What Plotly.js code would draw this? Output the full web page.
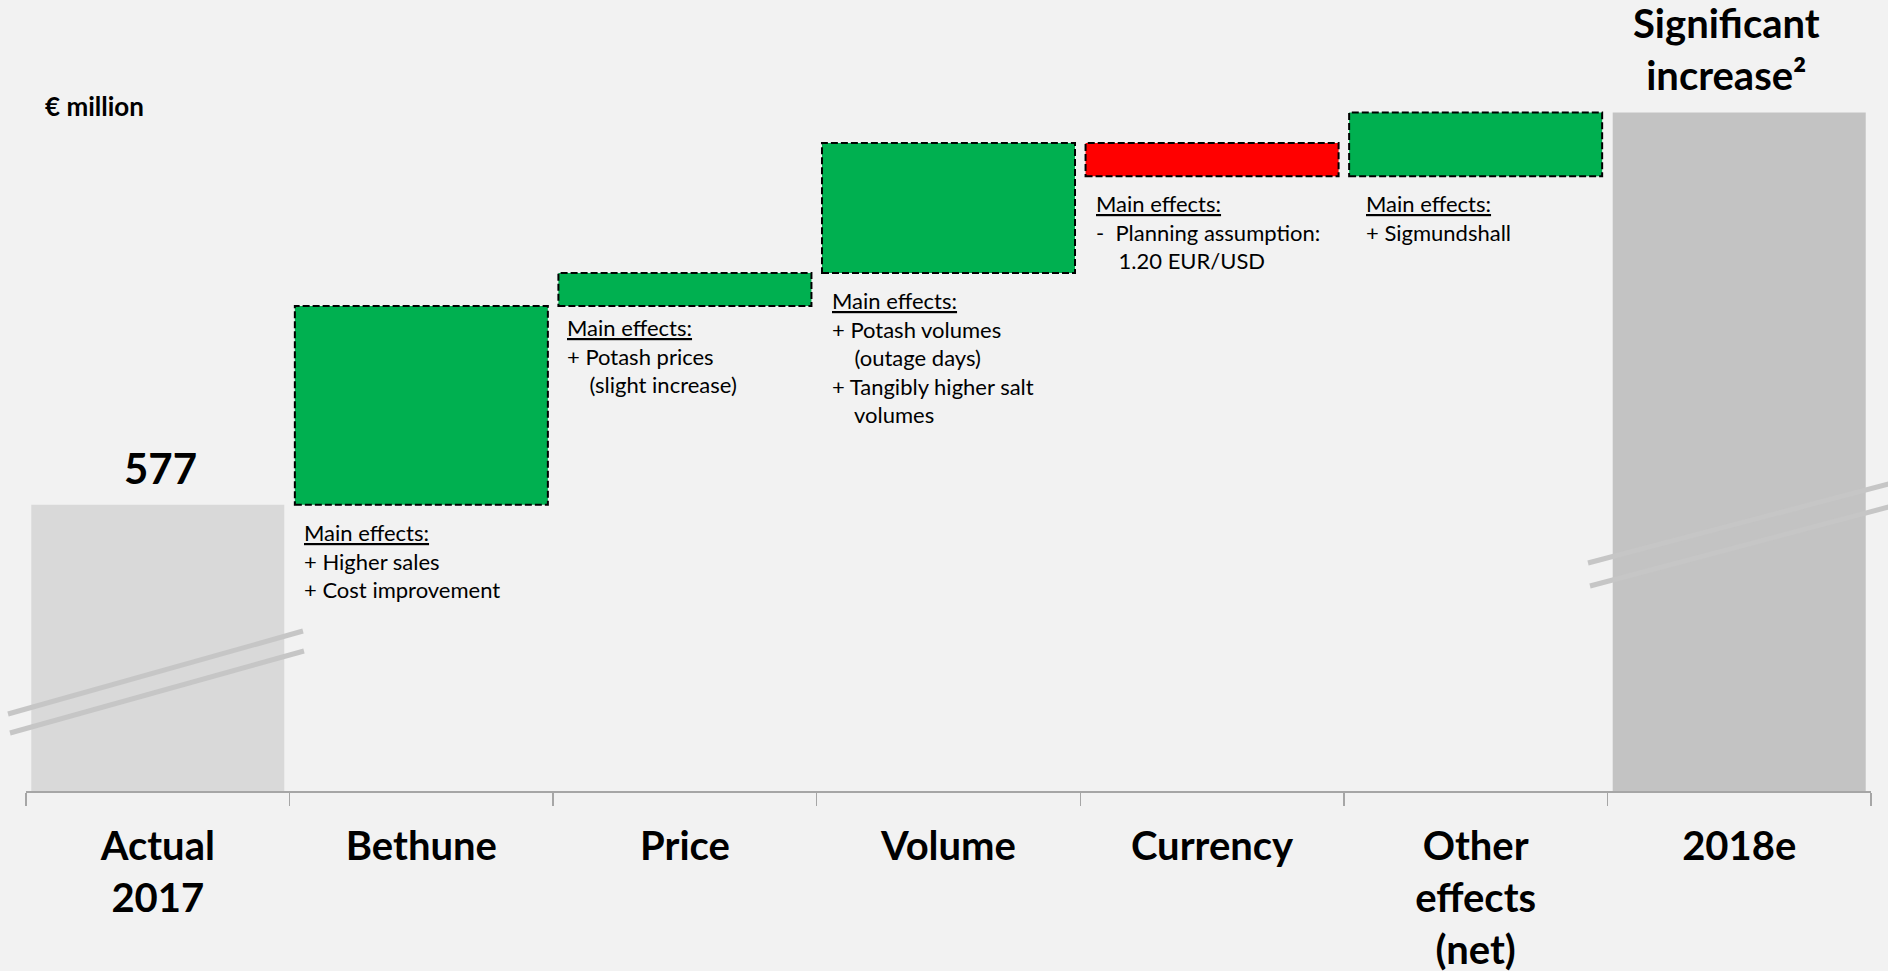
<!DOCTYPE html>
<html>
<head>
<meta charset="utf-8">
<script src="https://cdn.plot.ly/plotly-3.0.1.min.js"></script>
<style>
html,body{margin:0;padding:0;background:#f2f2f2;overflow:hidden;}
#chart{width:1888px;height:971px;}
</style>
</head>
<body>
<div id="chart"></div>
<script>
// ---------------- data ----------------
const categories = ["Actual<br>2017", "Bethune", "Price", "Volume", "Currency", "Other<br>effects<br>(net)", "2018e"];
const actual2017 = 577;
const effectValues = [150, 25, 98, -25, 48];          // Bethune, Price, Volume, Currency, Other effects (estimated)
const totalLabel = "Significant<br>increase\u00b2";
const unitLabel = "€ million";
const effectNotes = [
  ["<u>Main effects:</u>", "+ Higher sales", "+ Cost improvement"],
  ["<u>Main effects:</u>", "+ Potash prices", "\u00a0\u00a0\u00a0\u00a0(slight increase)"],
  ["<u>Main effects:</u>", "+ Potash volumes", "\u00a0\u00a0\u00a0\u00a0(outage days)", "+ Tangibly higher salt", "\u00a0\u00a0\u00a0\u00a0volumes"],
  ["<u>Main effects:</u>", "-\u00a0\u00a0Planning assumption:", "\u00a0\u00a0\u00a0\u00a01.20 EUR/USD"],
  ["<u>Main effects:</u>", "+ Sigmundshall"]
];
const axisRange = [361, 958];   // broken value axis

// ---------------- styles ----------------
const GREEN = "#00b050", RED = "#ff0000";
const BAR_W = 0.96;
const FONT = "Lato, 'Open Sans', sans-serif";
const noteXShift = [7, 7, 8, 8, 15];
const noteYShift = [-12, -6, -12, -12, -12];

// ---------------- derived ----------------
const bases = [], heights = [], colors = [];
let running = actual2017;
effectValues.forEach(v => {
  bases.push(v >= 0 ? running : running + v);
  heights.push(Math.abs(v));
  colors.push(v >= 0 ? GREEN : RED);
  running += v;
});
const total2018 = running;
const effectIdx = effectValues.map((_, i) => i + 1);
const lastIdx = categories.length - 1;

const traces = [
  {
    type: "bar",
    x: [categories[0], categories[lastIdx]],
    y: [actual2017, total2018],
    width: BAR_W,
    marker: {color: ["#d9d9d9", "#c3c3c3"], line: {width: 0}},
    hoverinfo: "skip"
  },
  {
    type: "bar",
    x: effectIdx.map(i => categories[i]),
    y: heights,
    base: bases,
    width: BAR_W,
    marker: {color: colors, line: {width: 0}},
    hoverinfo: "skip"
  }
];

const shapes = [];
effectIdx.forEach((ci, k) => {
  shapes.push({
    type: "rect", xref: "x", yref: "y", layer: "above",
    x0: ci - BAR_W / 2, x1: ci + BAR_W / 2,
    y0: bases[k], y1: bases[k] + heights[k],
    line: {color: "#000000", width: 2, dash: "7px,3px"},
    fillcolor: "rgba(0,0,0,0)"
  });
});

// axis-break marks (decoration, pixel positions converted to paper)
const M = {l: 26, r: 17, t: 0, b: 180};
const W = 1888, H = 971;
const pw = W - M.l - M.r, ph = H - M.t - M.b;
const px = x => (x - M.l) / pw;
const py = y => 1 - (y - M.t) / ph;
const breaks = [
  [8, 714, 303, 631], [10, 733, 304, 651],
  [1588, 563, 1900, 481], [1590, 586, 1900, 504]
];
breaks.forEach(b => shapes.push({
  type: "line", xref: "paper", yref: "paper", layer: "above",
  x0: px(b[0]), y0: py(b[1]), x1: px(b[2]), y1: py(b[3]),
  line: {color: "#c6c6c6", width: 5}
}));

const annotations = [];
annotations.push({
  xref: "paper", yref: "paper", x: px(43), y: py(106),
  xanchor: "left", yanchor: "middle", showarrow: false,
  text: unitLabel, font: {family: FONT, size: 26, color: "#000", weight: "bold"}
});
annotations.push({
  xref: "x", yref: "y", x: 0, y: actual2017, xshift: 3, yshift: 10,
  xanchor: "center", yanchor: "bottom", showarrow: false,
  text: String(actual2017), font: {family: FONT, size: 42, color: "#000", weight: "bold"}
});
annotations.push({
  xref: "x", yref: "y", x: lastIdx, y: total2018, xshift: -13, yshift: 12,
  xanchor: "center", yanchor: "bottom", showarrow: false, align: "center",
  text: totalLabel, font: {family: FONT, size: 40, color: "#000", weight: "bold"}
});
effectIdx.forEach((ci, k) => {
  annotations.push({
    xref: "x", yref: "y", x: ci - BAR_W / 2, y: bases[k],
    xshift: noteXShift[k], yshift: noteYShift[k],
    xanchor: "left", yanchor: "top", align: "left", showarrow: false,
    text: effectNotes[k].join("<br>"),
    font: {family: FONT, size: 22, color: "#000"}
  });
});

const layout = {
  width: W, height: H,
  margin: M,
  paper_bgcolor: "#f2f2f2", plot_bgcolor: "#f2f2f2",
  barmode: "overlay",
  showlegend: false,
  xaxis: {
    type: "category", categoryorder: "array", categoryarray: categories,
    range: [-0.5, lastIdx + 0.5],
    tickson: "boundaries", ticks: "outside", ticklen: 13, tickwidth: 1.5, tickcolor: "#a6a6a6",
    showline: true, linecolor: "#a6a6a6", linewidth: 2,
    showgrid: false, zeroline: false, fixedrange: true,
    tickfont: {family: FONT, size: 40, color: "#000", weight: "bold"},
    ticklabelstandoff: 19
  },
  yaxis: {range: axisRange, visible: false, fixedrange: true, showgrid: false, zeroline: false},
  shapes: shapes,
  annotations: annotations
};

Plotly.newPlot("chart", traces, layout, {displayModeBar: false, staticPlot: true});
</script>
</body>
</html>
